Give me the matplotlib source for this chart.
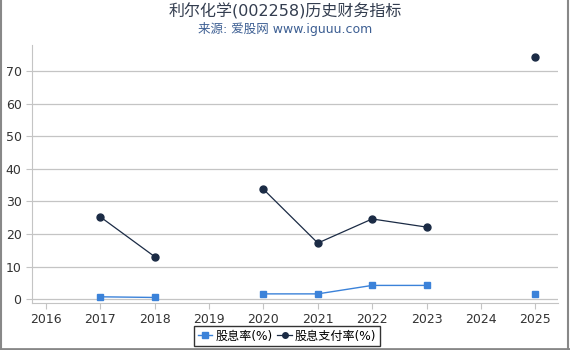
import matplotlib
matplotlib.use("Agg")
import matplotlib.pyplot as plt
import numpy as np

plt.rcParams['font.family'] = ['DejaVu Sans', 'Noto Sans CJK SC']

years = [2016, 2017, 2018, 2019, 2020, 2021, 2022, 2023, 2024, 2025]
dividend_yield = [np.nan, 0.7, 0.5, np.nan, 1.6, 1.6, 4.2, 4.2, np.nan, 1.6]
payout_ratio = [np.nan, 25.2, 13.0, np.nan, 33.7, 17.2, 24.6, 22.1, np.nan, 74.3]
yticks = [0, 10, 20, 30, 40, 50, 60, 70]

fig = plt.figure(figsize=(5.7, 3.5), dpi=100)
ax = fig.add_axes([32/570, 47/350, 526/570, 258/350])

ax.plot(years, dividend_yield, color='#3b82d9', marker='s', markersize=5,
        linewidth=1, label='股息率(%)', zorder=3)
ax.plot(years, payout_ratio, color='#1b2b45', marker='o', markersize=5,
        linewidth=0.9, label='股息支付率(%)', zorder=3)

ax.set_xlim(2015.74, 2025.42)
ax.set_ylim(-1.2, 78)
ax.set_xticks(years)
ax.set_xticklabels([str(y) for y in years])
ax.set_yticks(yticks)
ax.yaxis.grid(True, color='#c4c4c4', linewidth=0.9)
ax.set_axisbelow(True)
for s in ['top', 'right']:
    ax.spines[s].set_visible(False)
for s in ['left', 'bottom']:
    ax.spines[s].set_color('#c4c4c4')
ax.tick_params(axis='both', colors='#c4c4c4', labelcolor='#333333', labelsize=9, length=4)

fig.text(0.5, 0.968, '利尔化学(002258)历史财务指标', ha='center', va='center',
         fontsize=11.5, color='#333d4f')
fig.text(0.5, 0.918, '来源: 爱股网 www.iguuu.com', ha='center', va='center',
         fontsize=9, color='#3d5f93')

leg = ax.legend(loc='upper center', bbox_to_anchor=(0.5 - 0.015, -0.065), ncol=2, frameon=True,
                fontsize=8.7, handlelength=1.2, handletextpad=0.25, columnspacing=0.4,
                borderpad=0.3, fancybox=False, markerscale=0.8)
leg.get_frame().set_edgecolor('#000000')
leg.get_frame().set_linewidth(1)

# figure border
from matplotlib.lines import Line2D
fig.add_artist(Line2D([0.002, 0.002], [0, 1], color='#888888', linewidth=1.5, transform=fig.transFigure))
fig.add_artist(Line2D([0.997, 0.997], [0, 1], color='#888888', linewidth=1.5, transform=fig.transFigure))
fig.add_artist(Line2D([0, 1], [0.004, 0.004], color='#888888', linewidth=2, transform=fig.transFigure))

fig.savefig('out.png', dpi=100)
